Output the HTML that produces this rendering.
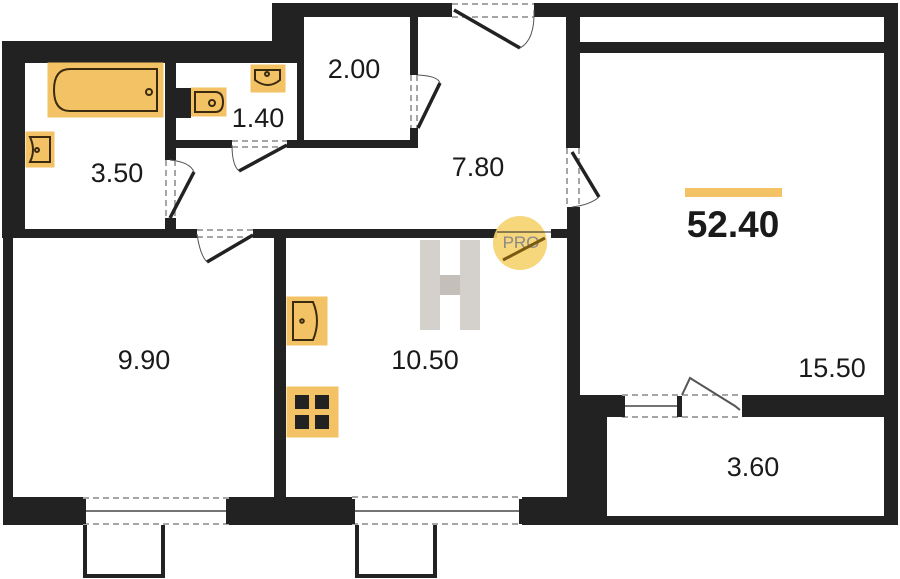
<!DOCTYPE html>
<html><head><meta charset="utf-8"><style>
html,body{margin:0;padding:0;background:#fff;}
svg{display:block;}
text{font-family:"Liberation Sans",sans-serif;fill:#1a1a1a;}
</style></head><body>
<svg width="900" height="579" viewBox="0 0 900 579" xmlns="http://www.w3.org/2000/svg">
<g fill="#222">
<!-- top-left block -->
<rect x="2" y="41" width="302" height="22"/>
<rect x="2" y="41" width="23" height="197"/>
<rect x="272" y="3" width="32" height="60"/>
<rect x="272" y="3" width="180" height="14"/>
<rect x="534" y="3" width="364" height="14"/>
<!-- 2.00 room -->
<rect x="297" y="3" width="7" height="145"/>
<rect x="410" y="17" width="8" height="58"/>
<rect x="410" y="128" width="8" height="20"/>
<rect x="287" y="140" width="131" height="8"/>
<rect x="165" y="140" width="67" height="8"/>
<!-- bath/toilet divider -->
<rect x="165" y="63" width="11" height="97"/>
<rect x="165" y="218" width="11" height="20"/>
<!-- corridor bottom wall -->
<rect x="2" y="229" width="195" height="9"/>
<rect x="253" y="229" width="244" height="9"/>
<rect x="551" y="229" width="29" height="9"/>
<!-- hall right wall -->
<rect x="566" y="3" width="14" height="145"/>
<rect x="567" y="207" width="13" height="210"/>
<!-- top strip -->
<rect x="580" y="42" width="304" height="11"/>
<rect x="884" y="3" width="14" height="522"/>
<!-- lower left -->
<rect x="3" y="238" width="10" height="287"/>
<rect x="274" y="238" width="12" height="260"/>
<rect x="3" y="497" width="80" height="28"/>
<rect x="229" y="497" width="123" height="28"/>
<rect x="522" y="497" width="85" height="28"/>
<rect x="567" y="395" width="40" height="130"/>
<rect x="580" y="395" width="42" height="22"/>
<rect x="742" y="395" width="156" height="22"/>
<rect x="607" y="516" width="291" height="9"/>
</g>
<!-- balconies -->
<g fill="none" stroke="#222" stroke-width="4">
<path d="M85 525 V576 H163 V525"/>
<path d="M357 525 V576 H435 V525"/>
</g>
<!-- dashed door/window frames -->
<g stroke="#888" stroke-width="1.5" stroke-dasharray="6,4" fill="none">
<path d="M452 4 H534 M452 17 H534"/>
<path d="M411 75 V128 M417 75 V128"/>
<path d="M232 141 H287 M232 147 H287"/>
<path d="M166 160 V218 M175 160 V218"/>
<path d="M197 230 H253 M197 237 H253"/>
<path d="M567 148 V207 M579 148 V207"/>
<path d="M83 498 H229 M83 524 H229"/>
<path d="M352 497 H522 M352 524 H522"/>
<path d="M622 395 H742 M622 417 H742"/>
</g>
<!-- window lines -->
<g stroke="#222" stroke-width="1.2">
<path d="M86 511 H226"/><path d="M355 511 H519"/><path d="M625 406 H680"/>
</g>
<g fill="#222"><rect x="82" y="499" width="4" height="25"/><rect x="226" y="499" width="4" height="25"/>
<rect x="351" y="499" width="4" height="25"/><rect x="519" y="499" width="4" height="25"/>
<rect x="621" y="396" width="4" height="21"/><rect x="677" y="396" width="5" height="21"/></g>
<!-- door leaves -->
<g stroke="#222" stroke-width="3.5">
<line x1="454" y1="10" x2="520" y2="48"/>
<line x1="418" y1="128" x2="440" y2="83"/>
<line x1="287" y1="145" x2="239" y2="171"/>
<line x1="170" y1="218" x2="194" y2="172"/>
<line x1="253" y1="235" x2="207" y2="262"/>
<line x1="572" y1="152" x2="599" y2="197"/>
</g>
<g stroke="#555" stroke-width="1" fill="none">
<path d="M682 395 L690 378 L735 406 L740 410" stroke-width="2" stroke="#555"/>
<path d="M534 10 Q535 40 520 48"/>
<path d="M418 75 Q438 76 440 83"/>
<path d="M232 145 Q232 165 239 171"/>
<path d="M170 160 Q190 162 194 172"/>
<path d="M197 234 Q200 255 207 262"/>
<path d="M572 207 Q590 205 599 197"/>
</g>
<!-- fixtures -->
<g fill="#f3c265" stroke="#f3c265">
<rect x="48" y="63" width="115" height="54"/>
<rect x="26" y="132" width="28" height="35"/>
<rect x="191" y="88" width="35" height="28"/>
<rect x="251" y="65" width="34" height="27"/>
<rect x="287" y="297" width="40" height="48"/>
<rect x="287" y="387" width="51" height="50"/>
</g>
<g fill="none" stroke="#3a2a10" stroke-width="2">
<path d="M157 69 H70 Q54 69 54 90 Q54 111 70 111 H157 Z"/>
<circle cx="149" cy="92" r="3"/>
<path d="M30 137 H50 V162 H30 Q36 150 30 137 Z"/>
<circle cx="37" cy="150" r="2"/>
<path d="M195 92 H215 Q223 92 223 102 Q223 112 215 112 H195 Z"/>
<circle cx="212" cy="103" r="3"/>
<path d="M255 70 H280 V80 Q268 90 255 80 Z"/>
<circle cx="267" cy="74" r="2"/>
<path d="M293 302 H313 Q321 321 313 340 H293 Z"/>
<circle cx="302" cy="321" r="1.8"/>
</g>
<rect x="176" y="88" width="15" height="30" fill="#222"/>
<g fill="#222">
<rect x="295" y="395" width="14" height="14"/><rect x="315" y="395" width="14" height="14"/>
<rect x="295" y="415" width="14" height="14"/><rect x="315" y="415" width="14" height="14"/>
</g>
<!-- H logo -->
<g fill="#d4d0cc">
<rect x="420" y="240" width="20" height="90"/><rect x="460" y="240" width="20" height="90"/>
<rect x="440" y="275" width="20" height="20" fill="#c4bfb9"/>
</g>
<!-- PRO -->
<circle cx="520" cy="243" r="27" fill="#f6d36e" opacity="0.9"/>
<line x1="497" y1="232" x2="551" y2="232" stroke="#222" stroke-width="2" opacity="0.5"/>
<text x="521" y="248" font-size="17" text-anchor="middle" style="fill:#888">PRO</text>
<line x1="503" y1="260" x2="545" y2="238" stroke="#7a5a10" stroke-width="3"/>
<!-- labels -->
<g font-size="27" text-anchor="middle">
<text x="354" y="78">2.00</text>
<text x="258" y="127">1.40</text>
<text x="117" y="182">3.50</text>
<text x="478" y="176">7.80</text>
<text x="144" y="369">9.90</text>
<text x="425" y="369">10.50</text>
<text x="832" y="377">15.50</text>
<text x="753" y="476">3.60</text>
</g>
<rect x="685" y="188" width="97" height="9" fill="#f3c265"/>
<text x="733" y="237" font-size="37" font-weight="bold" text-anchor="middle">52.40</text>
</svg>
</body></html>
